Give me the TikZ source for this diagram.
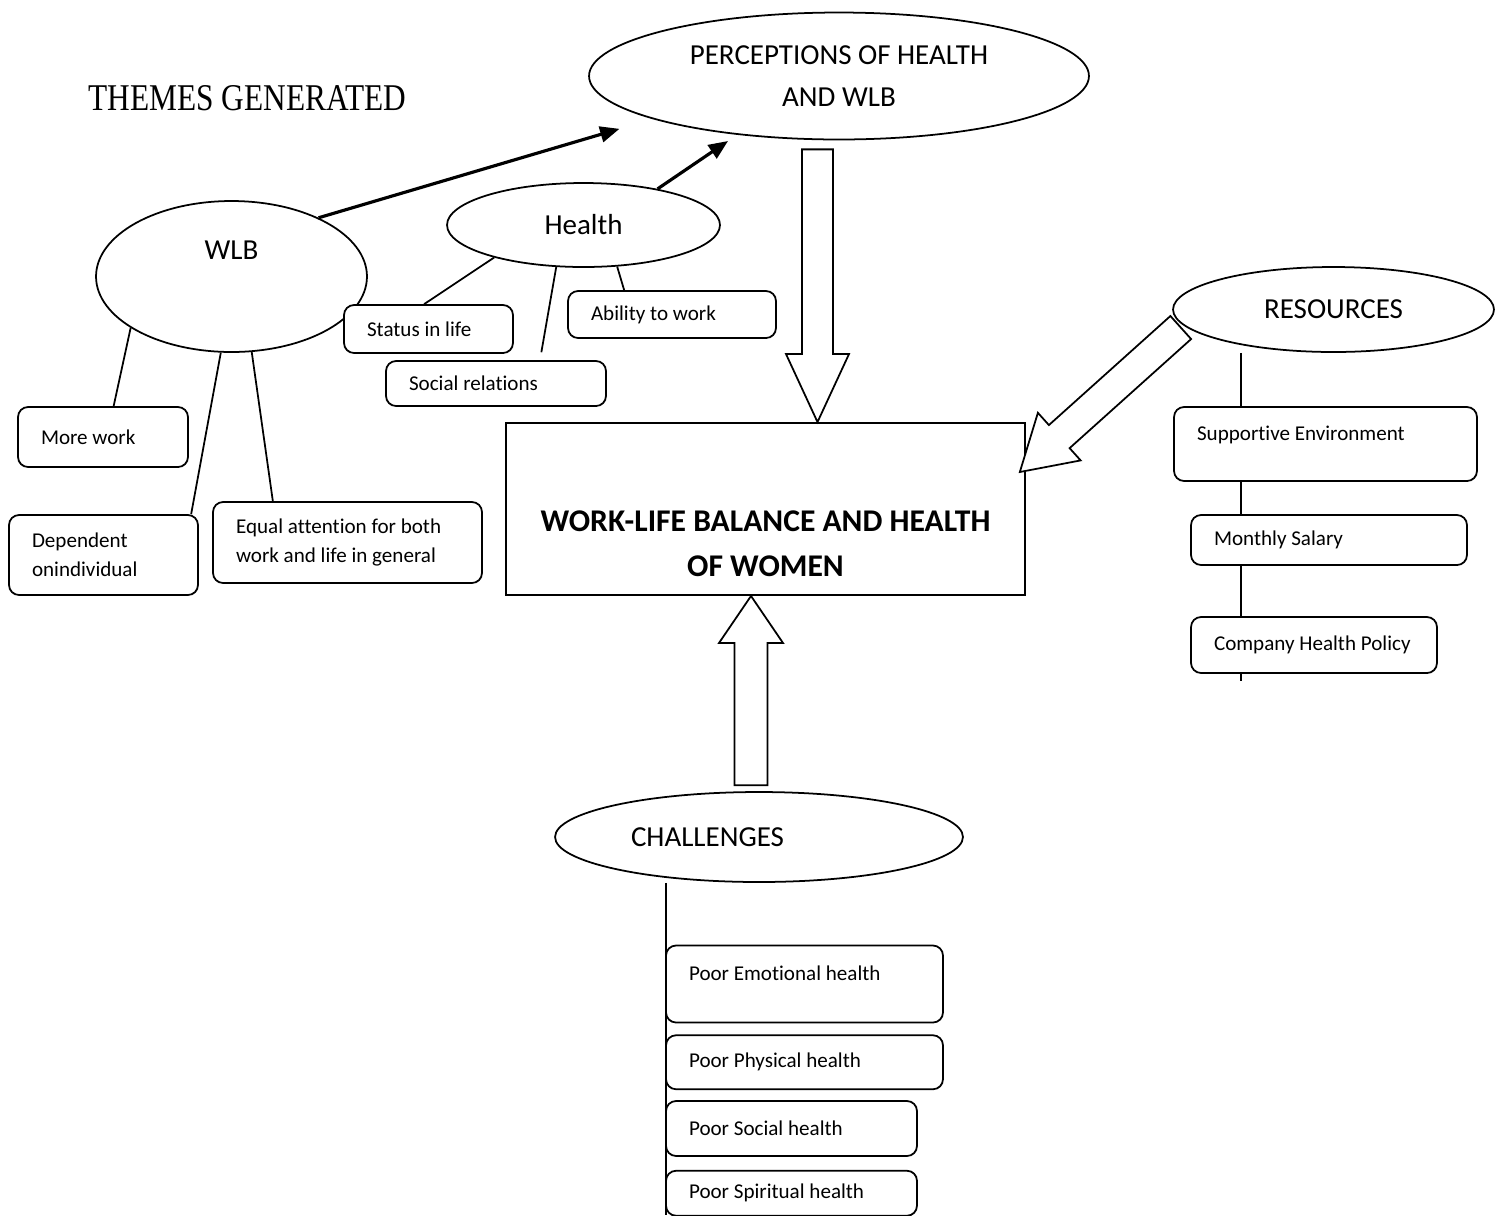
\documentclass[tikz,border=0pt]{standalone}
\usepackage{fontspec}
\setmainfont{Carlito}[Ligatures=NoCommon]
\newfontfamily\themefont[FakeStretch=0.83]{Liberation Serif}
\usepackage{tikz}
\usetikzlibrary{arrows.meta,calc,positioning,backgrounds,shapes.geometric}
\tikzset{
  theme/.style n args={2}{draw, fill=white, rounded corners=0.2cm, align=flush left, line width=1pt,
        font=\fontsize{12}{16.5}\selectfont, inner xsep=0.46cm, inner ysep=0pt,
        text width=#1, minimum height=#2},
  bubble/.style n args={2}{draw, fill=white, ellipse, inner sep=0pt, align=center, line width=1pt,
        font=\fontsize{16.5}{24}\selectfont, minimum width=#1, minimum height=#2},
  link/.style={line width=1pt},
  push/.style={-{Triangle[length=11pt,width=9pt]}, line width=1.8pt},
  hollow/.style={draw, fill=white, line width=1pt, line join=miter},
}
% tail, tip, half shaft, half head, head length
\newcommand{\hollowarrow}[5]{%
  \coordinate (ha) at ($(#2)!#5!(#1)$);
  \draw[hollow] ($(#1)!#3!90:(#2)$) -- ($(ha)!#3!-90:(#1)$) -- ($(ha)!#4!-90:(#1)$)
    -- (#2) -- ($(ha)!#4!90:(#1)$) -- ($(ha)!#3!90:(#1)$) -- ($(#1)!#3!-90:(#2)$) -- cycle;
}
\begin{document}
\begin{tikzpicture}[x=0.02cm, y=-0.02cm]
  \useasboundingbox (0,0) rectangle (1497,1215);
  \node[font=\themefont\fontsize{21.5}{26}\selectfont, inner sep=0pt] (title) at (247.5,98.5) {THEMES GENERATED};

  % central box
  \node[draw, line width=1pt, minimum width=10.38cm, inner ysep=0.36cm, align=center,
        font=\bfseries\fontsize{18}{25.6}\selectfont] (wlbh) at (765.5,509)
    {\rule{0pt}{1.82cm}WORK-LIFE BALANCE AND HEALTH\\OF WOMEN};

  % themes
  \node[bubble={10cm}{2.54cm}] (perc) at (839,76) {PERCEPTIONS OF HEALTH\\AND WLB};
  \node[bubble={5.42cm}{3.02cm}, text depth=1.06cm] (wlb) at (231.5,276.5) {WLB};
  \node[bubble={5.46cm}{1.68cm}] (health) at (583.5,225) {Health};
  \node[bubble={6.42cm}{1.7cm}] (res) at (1333.5,309.5) {RESOURCES};
  \node[bubble={8.16cm}{1.8cm}] (chal) at (759,837) {CHALLENGES\hspace*{2.06cm}};

  % sub-themes
  \node[theme={2.46cm}{0.96cm}] (status) at (428.5,329) {Status in life};
  \node[theme={3.48cm}{0.90cm}] (social) at (496,383.5) {Social relations};
  \node[theme={3.24cm}{0.94cm}] (ability) at (672,314.5) {Ability to work};
  \node[theme={2.48cm}{1.20cm}] (morework) at (103,437) {More work};
  \node[theme={2.86cm}{1.60cm}] (dependent) at (103.5,555) {Dependent\\onindividual};
  \node[theme={4.46cm}{1.62cm}] (equal) at (347.5,542.5) {Equal attention for both\\work and life in general};
  \node[theme={5.14cm}{1.48cm}] (supp) at (1325.5,444) {Supportive Environment\\[-4.5pt]\mbox{}};
  \node[theme={4.60cm}{1.00cm}] (salary) at (1329,540) {Monthly Salary};
  \node[theme={4.00cm}{1.12cm}] (policy) at (1314,645) {Company Health Policy};
  \node[theme={4.62cm}{1.54cm}] (emo) at (804.5,984) {Poor Emotional health\\[-4.5pt]\mbox{}};
  \node[theme={4.62cm}{1.08cm}, below=0.22cm of emo.south west, anchor=north west] (phys) {Poor Physical health};
  \node[theme={4.10cm}{1.10cm}, below=0.2cm of phys.south west, anchor=north west] (soc) {Poor Social health};
  \node[theme={4.10cm}{0.90cm}, below=0.26cm of soc.south west, anchor=north west] (spir) {Poor Spiritual health};

  \coordinate (resEnd) at (1241,681);
  \coordinate (chalEnd) at (666,1215);
  \begin{scope}[on background layer]
    \draw[link] (res.south -| resEnd) -- (resEnd);
    \draw[link] (chal.south -| chalEnd) -- (chalEnd);
  \end{scope}

  \draw[link] (health.200) -- (status.100);
  \draw[link, shorten >=0.16cm] (health.237) -- (social.28);
  \draw[link] (health.-51) -- (ability.153);
  \draw[link] (wlb.207) -- (morework.71);
  \draw[link] (wlb.262) -- (dependent.25);
  \draw[link] (wlb.285) -- (equal.151);

  \draw[push, shorten >=0.69cm] (wlb.34.5) -- (perc.193.5);
  \draw[push, shorten >=0.22cm] (health.26) -- (perc.210.6);

  % block arrows into the central box
  \coordinate (downTail) at ($(perc.south)+(-21.5,9)$);
  \coordinate (downTip) at (downTail |- wlbh.north);
  \coordinate (upTip) at ($(wlbh.south)+(-14.5,0)$);
  \coordinate (upTail) at ($(upTip |- chal.north)+(0,-6)$);
  \coordinate (resTail) at ($(res.187)+(-6,0)$);
  \coordinate (resTip) at ($(wlbh.east)+(-6,-37)$);
  \hollowarrow{downTail}{downTip}{0.31cm}{0.63cm}{1.36cm}
  \hollowarrow{upTail}{upTip}{0.33cm}{0.64cm}{0.94cm}
  \hollowarrow{resTail}{resTip}{0.31cm}{0.64cm}{1.06cm}
\end{tikzpicture}
\end{document}
